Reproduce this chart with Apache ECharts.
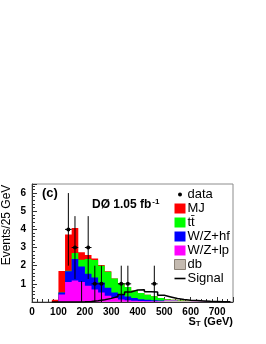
<!DOCTYPE html>
<html><head><meta charset="utf-8">
<script src="https://cdn.jsdelivr.net/npm/echarts@6/dist/echarts.min.js"></script>
<style>html,body{margin:0;padding:0;background:#fff}#c{width:266px;height:344px}</style>
</head><body><div id="c"></div>
<script>
// ---- data ----
const binLow = [75,100,125,150,175,200,225,250,275,300,325,350,375,400,425,450,475,500,525,550,575,600,625,650,675,700,725];
const binWidth = 25;
const mj    = [0.12,1.18,2.00,1.37,0.41,0.22,0.07,0.05,0.02,0,0,0,0,0,0,0,0,0,0,0,0,0,0,0,0,0,0];
const ttbar = [0,0,0.02,0.33,0.37,0.81,0.97,0.92,0.88,0.78,0.64,0.53,0.42,0.35,0.28,0.21,0.14,0.04,0.03,0.02,0.02,0.02,0.01,0.01,0.01,0.01,0];
const wzhf  = [0,0.12,0.60,1.18,0.86,0.66,0.66,0.55,0.45,0.30,0.25,0.20,0.15,0.10,0.08,0.06,0.04,0.02,0.01,0,0,0,0,0,0,0,0];
const wzlp  = [0,0.40,1.08,1.17,1.08,0.88,0.67,0.50,0.32,0.20,0.12,0.08,0.05,0.03,0.02,0.02,0.01,0.01,0,0,0,0,0,0,0,0,0];
const dbkg  = [0,0.01,0.02,0.02,0.02,0.02,0.02,0.02,0.02,0.02,0.02,0.02,0.02,0.02,0.02,0.02,0.03,0.08,0.08,0.06,0.05,0.04,0.04,0.03,0.03,0.02,0.01];
const signal= [0,0,0,0,0.01,0.03,0.07,0.12,0.20,0.30,0.42,0.55,0.66,0.68,0.56,0.55,0.37,0.28,0.19,0.14,0.10,0.08,0.06,0.04,0.03,0.02,0.01];
const dataX       = [137.5,162.5,187.5,212.5,237.5,262.5,337.5,362.5,462.5];
const dataY       = [4,3,0,3,1,1,1,1,1];
const dataErrLow  = [2,1.73,0,1.73,1,1,1,1,1];
const dataErrHigh = [2,1.73,1.15,1.73,1,1,1,1,1];
const xTicks = [0,100,200,300,400,500,600,700];
const yTicks = [1,2,3,4,5,6];

// ---- build stack (bottom -> top: db, W/Z+lp, W/Z+hf, ttbar, MJ) ----
const comps = [
  {name:'db', vals:dbkg, color:'#c4bab0'},
  {name:'W/Z+lp', vals:wzlp, color:'#ff00ff'},
  {name:'W/Z+hf', vals:wzhf, color:'#0000ff'},
  {name:'t\u0074\u0304', vals:ttbar, color:'#00ff00'},
  {name:'MJ', vals:mj, color:'#ff0000'}
];
let cum = binLow.map(()=>0);
comps.forEach(c => { cum = cum.map((v,i)=>v + c.vals[i]); c.top = cum.slice(); });

function areaRenderer(top, color){
  return function(params, api){
    const pts = [];
    for (let i = 0; i < binLow.length; i++) {
      pts.push(api.coord([binLow[i], top[i]]));
      pts.push(api.coord([binLow[i] + binWidth, top[i]]));
    }
    pts.push(api.coord([binLow[binLow.length-1] + binWidth, 0]));
    pts.push(api.coord([binLow[0], 0]));
    return {type:'polygon', shape:{points:pts}, style:{fill:color}};
  };
}

const stackSeries = comps.slice().reverse().map(c => ({
  type:'custom', name:c.name, coordinateSystem:'cartesian2d',
  itemStyle:{color:c.color},
  data:[[binLow[0], 0]],
  renderItem: areaRenderer(c.top, c.color),
  silent:true
}));

const signalData = binLow.map((x,i)=>[x, signal[i]]);
signalData.push([binLow[binLow.length-1] + binWidth, 0]);

const dataItems = dataX.map((x,i)=>[x, dataY[i], dataErrLow[i], dataErrHigh[i]]);

const font = 'Liberation Sans, Arial, Helvetica, sans-serif';
const chart = echarts.init(document.getElementById('c'), null, {renderer:'canvas'});
chart.setOption({
  animation:false,
  backgroundColor:'#fff',
  grid:{left:32, right:33, top:184, bottom:42, show:true, borderColor:'#8c8c8c', borderWidth:1, containLabel:false},
  xAxis:{
    type:'value', min:0, max:760, interval:100,
    axisLine:{show:true, onZero:false, lineStyle:{color:'#333', width:1}},
    axisTick:{show:true, inside:true, length:5, lineStyle:{color:'#333'}},
    minorTick:{show:true, splitNumber:5, length:3, lineStyle:{color:'#333'}},
    splitLine:{show:false},
    axisLabel:{margin:5, fontSize:10, fontWeight:'bold', color:'#000', fontFamily:font,
      formatter:v => xTicks.indexOf(v) >= 0 ? String(v) : ''}
  },
  yAxis:{
    type:'value', min:0, max:6.5, interval:1,
    axisLine:{show:true, lineStyle:{color:'#333', width:1}},
    axisTick:{show:true, inside:true, length:5, lineStyle:{color:'#333'}},
    minorTick:{show:true, splitNumber:5, length:3, lineStyle:{color:'#333'}},
    splitLine:{show:false},
    axisLabel:{margin:6, fontSize:10, fontWeight:'bold', color:'#000', fontFamily:font,
      formatter:v => yTicks.indexOf(v) >= 0 ? String(v) : ''}
  },
  legend:{
    orient:'vertical', left:174, top:188, itemWidth:11, itemHeight:10, itemGap:1, padding:0,
    textStyle:{fontSize:13, lineHeight:13, color:'#000', fontFamily:font, padding:[0,0,0,-3]},
    data:[
      {name:'data', icon:'path://M0,0 M11,10 M5.5,5 m-2,0 a2,2 0 1,0 4,0 a2,2 0 1,0 -4,0 Z'},
      {name:'MJ', icon:'rect'},
      {name:'t\u0074\u0304', icon:'rect'},
      {name:'W/Z+hf', icon:'rect'},
      {name:'W/Z+lp', icon:'rect'},
      {name:'db', icon:'rect', itemStyle:{borderColor:'#8a8176', borderWidth:1}},
      {name:'Signal', icon:'path://M0,0 M11,10 M0,4.2 L11,4.2 L11,5.8 L0,5.8 Z', itemStyle:{color:'#000'}}
    ]
  },
  graphic:[
    {type:'text', left:42, top:187, style:{text:'(c)', font:'bold 13px '+font, fill:'#000'}},
    {type:'text', left:92, top:198, style:{text:'DØ 1.05 fb{sup|-1}', font:'bold 12px '+font, fill:'#000',
      rich:{sup:{fontSize:8, fontWeight:'bold', fontFamily:font, verticalAlign:'top', padding:[0,0,6,1]}}}},
    {type:'text', x:7, y:225, rotation:Math.PI/2,
      style:{text:'Events/25 GeV', font:'12px '+font, fill:'#000', align:'center', verticalAlign:'middle'}},
    {type:'text', right:33, top:316,
      style:{text:'S{sub|T} (GeV)', font:'bold 11px '+font, fill:'#000',
        rich:{sub:{fontSize:8, fontWeight:'bold', fontFamily:font, padding:[5,0,0,0]}}}}
  ],
  series:[
    ...stackSeries,
    {type:'line', name:'Signal', data:signalData, step:'end', symbol:'none', showSymbol:false,
      lineStyle:{color:'#000', width:1.5}, itemStyle:{color:'#000'}, silent:true, z:3},
    {type:'custom', name:'data', coordinateSystem:'cartesian2d', itemStyle:{color:'#000'}, z:4,
      data:dataItems, silent:true,
      renderItem:function(params, api){
        const x = api.value(0), y = api.value(1), lo = api.value(2), hi = api.value(3);
        const pTop = api.coord([x, y + hi]), pBot = api.coord([x, y - lo]);
        const children = [{type:'line', shape:{x1:pTop[0], y1:pTop[1], x2:pBot[0], y2:pBot[1]}, style:{stroke:'#000', lineWidth:1}}];
        if (y > 0) {
          const pl = api.coord([x - binWidth/2, y]), pr = api.coord([x + binWidth/2, y]);
          const pc = api.coord([x, y]);
          children.push({type:'line', shape:{x1:pl[0], y1:pl[1], x2:pr[0], y2:pr[1]}, style:{stroke:'#000', lineWidth:1}});
          children.push({type:'circle', shape:{cx:pc[0], cy:pc[1], r:2}, style:{fill:'#000'}});
        }
        return {type:'group', children:children};
      }}
  ]
});
</script></body></html>
